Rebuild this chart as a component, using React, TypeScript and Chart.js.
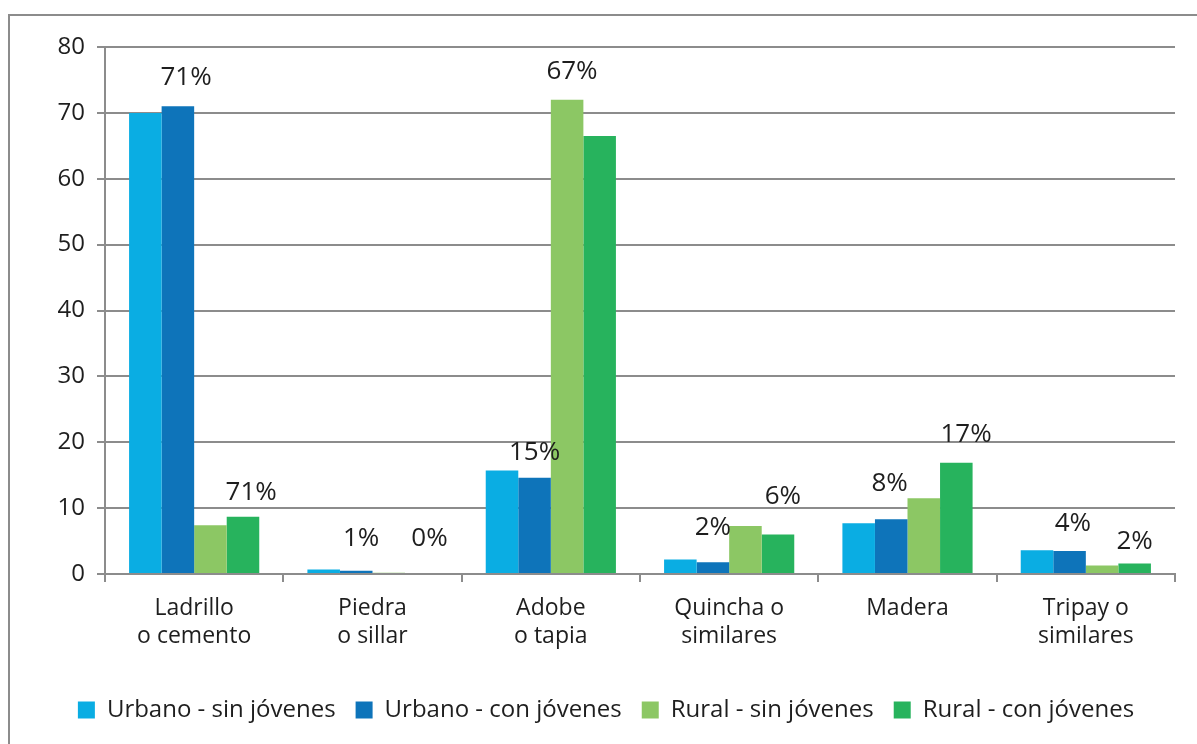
import React, { useEffect, useRef } from "react";
import { Chart, registerables } from "chart.js";

Chart.register(...registerables);

const categories: string[][] = [
  ["Ladrillo", "o cemento"],
  ["Piedra", "o sillar"],
  ["Adobe", "o tapia"],
  ["Quincha o", "similares"],
  ["Madera"],
  ["Tripay o", "similares"],
];

const seriesNames = [
  "Urbano - sin jóvenes",
  "Urbano - con jóvenes",
  "Rural - sin jóvenes",
  "Rural - con jóvenes",
];

const urbanoSin = [70, 0.7, 15.7, 2.2, 7.7, 3.6];
const urbanoCon = [71, 0.5, 14.6, 1.8, 8.3, 3.5];
const ruralSin = [7.4, 0.2, 72, 7.3, 11.5, 1.3];
const ruralCon = [8.7, 0, 66.5, 6.0, 16.9, 1.6];

const seriesColors = ["#0aade3", "#0e74ba", "#8cc764", "#27b35d"];

const yTicks = [0, 10, 20, 30, 40, 50, 60, 70, 80];

// Data labels as placed in the original (category, bar slot, value level)
const labelText = ["71%", "71%", "1%", "0%", "15%", "67%", "2%", "6%", "8%", "17%", "4%", "2%"];
const labelCat = [0, 0, 1, 1, 2, 2, 3, 3, 4, 4, 5, 5];
const labelSlot = [1.25, 3.25, 1.15, 3.25, 1.0, 2.15, 1.0, 3.15, 0.95, 3.3, 1.1, 3.0];
const labelLevel = [75.4, 12.4, 5.4, 5.3, 18.5, 76.2, 7.0, 11.8, 13.7, 21.2, 7.7, 4.9];

const FONT = "'Open Sans', Lato, sans-serif";
const GRID = "#8c8c8c";
const TEXT = "#1e1e1e";

const dataLabelPlugin = {
  id: "dataLabels",
  afterDatasetsDraw(chart: any) {
    const { ctx, scales } = chart;
    const xs = scales.x;
    const ys = scales.y;
    const meta = chart.getDatasetMeta(1);
    const bw = meta.data[0] ? meta.data[0].width : 32;
    ctx.save();
    ctx.font = `26px ${FONT}`;
    ctx.fillStyle = TEXT;
    ctx.textAlign = "center";
    ctx.textBaseline = "middle";
    labelText.forEach((t, i) => {
      const x = xs.getPixelForValue(labelCat[i]) + (labelSlot[i] - 1.5) * bw;
      const y = ys.getPixelForValue(labelLevel[i]);
      ctx.fillText(t, x, y);
    });
    ctx.restore();
  },
};

export default function App() {
  const canvasRef = useRef<HTMLCanvasElement | null>(null);

  useEffect(() => {
    if (!canvasRef.current) return;
    const allSeries = [urbanoSin, urbanoCon, ruralSin, ruralCon];
    const chart = new Chart(canvasRef.current, {
      type: "bar",
      data: {
        labels: categories as any,
        datasets: allSeries.map((d, i) => ({
          label: seriesNames[i],
          data: d,
          backgroundColor: seriesColors[i],
          borderWidth: 0,
          categoryPercentage: 0.73,
          barPercentage: 1,
          yAxisID: "y",
        })),
      },
      options: {
        animation: false,
        responsive: false,
        maintainAspectRatio: false,
        layout: { padding: { left: 0, right: 0, top: 31, bottom: 20 } },
        plugins: {
          tooltip: { enabled: false },
          legend: {
            position: "bottom",
            labels: {
              boxWidth: 17,
              boxHeight: 17,
              padding: 20,
              color: TEXT,
              font: { family: FONT, size: 24 },
            },
          },
        },
        scales: {
          x: {
            grid: {
              display: true,
              drawOnChartArea: false,
              drawTicks: true,
              tickLength: 8,
              color: GRID,
              lineWidth: 2,
            },
            border: { display: true, color: GRID, width: 2 },
            ticks: {
              color: TEXT,
              padding: 12,
              maxRotation: 0,
              autoSkip: false,
              font: { family: FONT, size: 23, lineHeight: 1.22 },
            },
            afterFit(scale: any) {
              scale.height = 104;
            },
          },
          y: {
            min: 0,
            max: 80,
            afterBuildTicks(scale: any) {
              scale.ticks = yTicks.map((v) => ({ value: v }));
            },
            grid: {
              color: GRID,
              lineWidth: 2,
              tickLength: 8,
              drawTicks: true,
            },
            border: { display: true, color: GRID, width: 2 },
            ticks: {
              color: TEXT,
              padding: 12,
              font: { family: FONT, size: 24 },
            },
            afterFit(scale: any) {
              scale.width = 95;
            },
          },
          yRight: {
            position: "right",
            display: true,
            min: 0,
            max: 80,
            grid: { display: false, drawTicks: false },
            border: { display: false },
            ticks: { display: false },
            afterFit(scale: any) {
              scale.width = 27;
            },
          },
        },
      },
      plugins: [dataLabelPlugin],
    });
    return () => chart.destroy();
  }, []);

  return (
    <div
      style={{
        position: "fixed",
        left: 0,
        top: 0,
        width: 1197,
        height: 744,
        overflow: "hidden",
        background: "#fff",
      }}
    >
      <div
        style={{
          position: "absolute",
          left: 8,
          top: 14,
          width: 1196,
          height: 740,
          border: `2px solid ${GRID}`,
          boxSizing: "border-box",
        }}
      >
        <canvas
          ref={canvasRef}
          width={1192}
          height={736}
          style={{ display: "block", width: 1192, height: 736 }}
        />
      </div>
    </div>
  );
}
